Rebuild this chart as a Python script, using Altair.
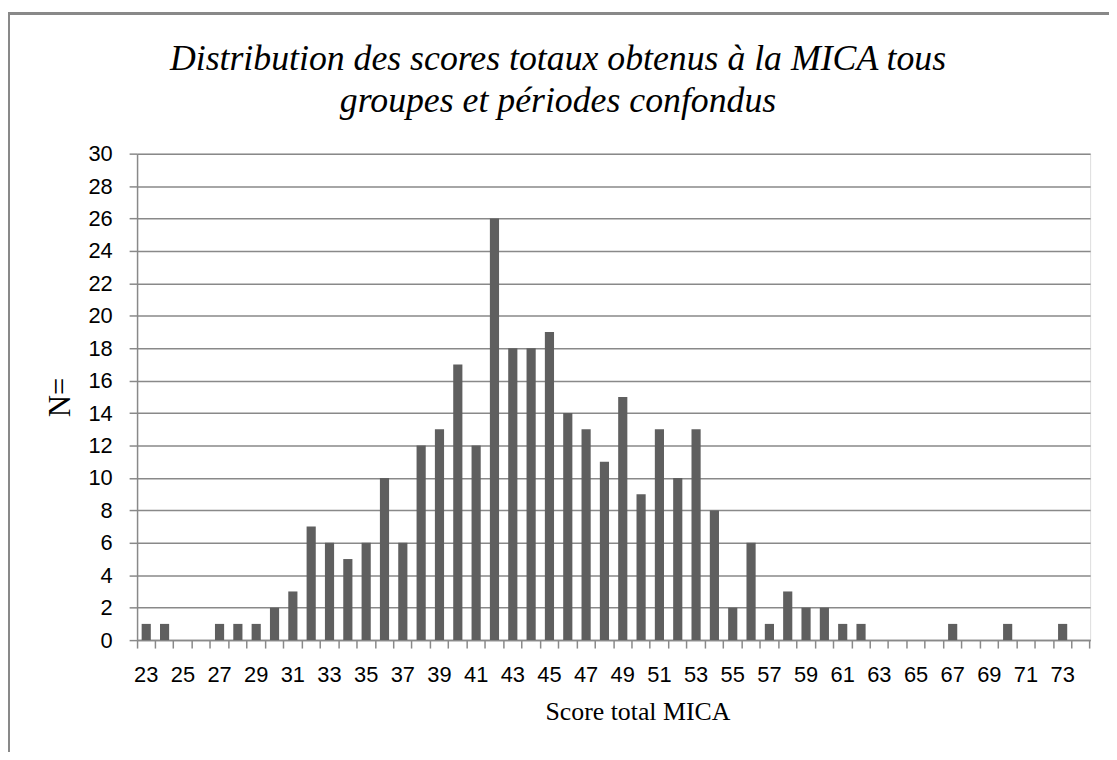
import altair as alt
import pandas as pd

scores = list(range(23, 75))
counts = [1, 1, 0, 0, 1, 1, 1, 2, 3, 7,
          6, 5, 6, 10, 6, 12, 13, 17, 12, 26,
          18, 18, 19, 14, 13, 11, 15, 9, 13, 10,
          13, 8, 2, 6, 1, 3, 2, 2, 1, 1,
          0, 0, 0, 0, 1, 0, 0, 1, 0, 0,
          1, 0]
label_values = list(range(23, 74, 2))
y_ticks = list(range(0, 31, 2))

title_lines = ["Distribution des scores totaux obtenus à la MICA tous",
               "groupes et périodes confondus"]

df = pd.DataFrame({"score": scores, "n": counts})

W, H = 960, 490
GRAY = "#898989"
BAR = "#5f5f5f"
SANS = "Liberation Sans"
SERIF = "Liberation Serif"

xscale = alt.Scale(paddingInner=0, paddingOuter=0)

base = alt.Chart(df)

bars = base.mark_bar(color=BAR, width=alt.RelativeBandSize(0.5)).encode(
    x=alt.X("score:O", scale=xscale, sort="ascending",
            axis=alt.Axis(orient="bottom", bandPosition=0, labels=False,
                          title=None, tickSize=8,
                          tickColor=GRAY, tickWidth=1.5, domainColor=GRAY,
                          domainWidth=1.5, grid=False)),
    y=alt.Y("n:Q", scale=alt.Scale(domain=[0, 30], nice=False),
            axis=alt.Axis(values=y_ticks, title="N=", titleFont=SERIF,
                          titleFontSize=31, titleFontWeight="normal",
                          titleColor="black", titlePadding=12,
                          labelFont=SANS, labelFontSize=22, labelColor="black",
                          labelOverlap=False,
                          labelPadding=17, tickSize=8, tickColor=GRAY,
                          tickWidth=1.5, domainColor=GRAY, domainWidth=1.5,
                          grid=True, gridColor=GRAY, gridWidth=1.5)),
)

labels = base.mark_tick(opacity=0).encode(
    x=alt.X("score:O", scale=xscale, sort="ascending",
            axis=alt.Axis(orient="bottom", values=label_values, labelAngle=0,
                          ticks=False, domain=False, grid=False, labelFont=SANS,
                          labelFontSize=22, labelColor="black",
                          labelPadding=25, labelOverlap=False,
                          title="Score total MICA", titleFont=SERIF,
                          titleFontSize=26, titleFontWeight="normal",
                          titleColor="black", titlePadding=13,
                          titleX=504)),
)

endtick = base.mark_tick(opacity=0).encode(
    x=alt.X("score:O", scale=xscale, sort="ascending",
            axis=alt.Axis(orient="bottom", values=[74], bandPosition=1,
                          labels=False, domain=False, grid=False, title=None,
                          tickSize=8, tickColor=GRAY, tickWidth=1.5)),
)

frame_top = base.mark_rule(color=GRAY, strokeWidth=2).encode(
    x=alt.value(-130), x2=alt.value(W + 40), y=alt.value(-141))
frame_left = base.mark_rule(color=GRAY, strokeWidth=2).encode(
    x=alt.value(-129.5), y=alt.value(-141), y2=alt.value(H + 140))

chart = alt.layer(bars, labels, endtick, frame_top, frame_left).resolve_axis(
    x="independent"
).properties(
    width=W, height=H,
    autosize=alt.AutoSizeParams(type="none"),
    padding={"left": 130, "top": 144, "right": 19, "bottom": 110},
    title=alt.TitleParams(text=title_lines, font=SERIF, fontStyle="italic",
                          fontSize=36, fontWeight="normal", color="black",
                          anchor="middle", frame="group", dx=-56, offset=0,
                          dy=108, lineHeight=42),
).configure_view(stroke=None).configure(background="white")

chart.save("out.html", embed_options={"renderer": "svg", "actions": False})
